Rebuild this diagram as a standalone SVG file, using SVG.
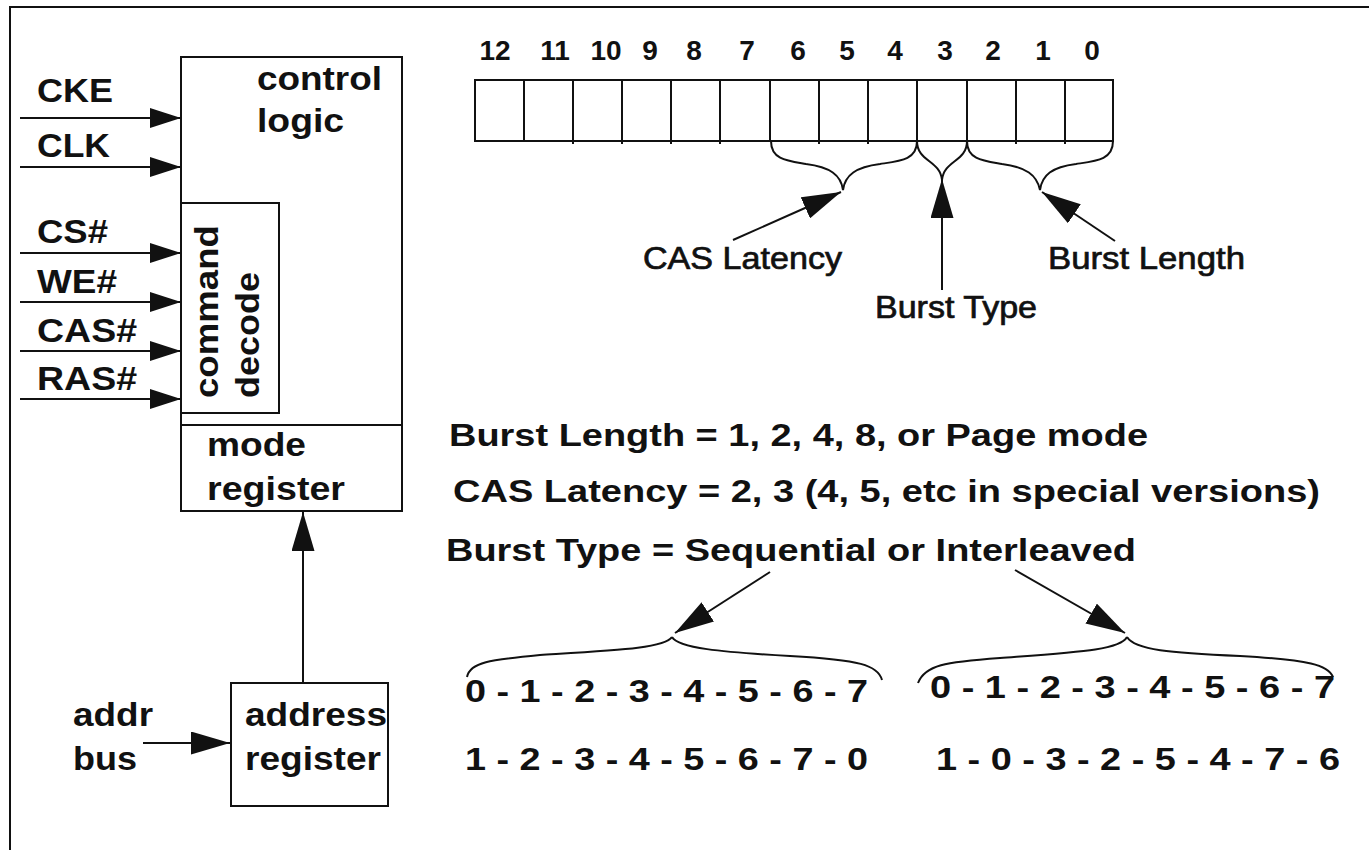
<svg xmlns="http://www.w3.org/2000/svg" width="1369" height="850" viewBox="0 0 1369 850">
<style>
.ln{fill:none;stroke:#111;stroke-width:2}
.box{fill:#fff;stroke:#111;stroke-width:2}
.t{font-family:"Liberation Sans",Arial,sans-serif;font-weight:bold;fill:#111}
.l{font-size:33px}
.n{font-size:28px}
.m{font-size:31px;font-weight:normal;stroke:#111;stroke-width:0.7}
.b{font-size:32px}
</style>
<defs>
<marker id="sa" markerUnits="userSpaceOnUse" markerWidth="31" markerHeight="20" refX="31" refY="10" orient="auto"><path d="M0,0 L31,10 L0,20 z" fill="#111"/></marker>
<marker id="la" markerUnits="userSpaceOnUse" markerWidth="39" markerHeight="23" refX="39" refY="11.5" orient="auto"><path d="M0,0 L39,11.5 L0,23 z" fill="#111"/></marker>
</defs>
<rect width="1369" height="850" fill="#fff"/>
<path class="ln" d="M10,850 L10,7 L1369,7"/>

<g id="control-logic">
<rect class="box" x="181" y="57" width="221" height="368"/>
<text class="t l" x="257" y="90" textLength="125" lengthAdjust="spacingAndGlyphs">control</text>
<text class="t l" x="257" y="132" textLength="87" lengthAdjust="spacingAndGlyphs">logic</text>
</g>
<g id="command-decode">
<rect class="box" x="181" y="203" width="98" height="210"/>
<text class="t l" transform="translate(218,398) rotate(-90)" textLength="173" lengthAdjust="spacingAndGlyphs">command</text>
<text class="t l" transform="translate(259,398) rotate(-90)" textLength="126" lengthAdjust="spacingAndGlyphs">decode</text>
</g>
<g id="mode-register">
<rect class="box" x="181" y="425" width="221" height="86"/>
<text class="t l" x="207" y="456" textLength="99" lengthAdjust="spacingAndGlyphs">mode</text>
<text class="t l" x="207" y="500" textLength="138" lengthAdjust="spacingAndGlyphs">register</text>
</g>
<g id="address-register">
<rect class="box" x="231" y="683" width="157" height="123"/>
<text class="t l" x="245" y="726" textLength="142" lengthAdjust="spacingAndGlyphs">address</text>
<text class="t l" x="245" y="770" textLength="136" lengthAdjust="spacingAndGlyphs">register</text>
</g>
<g id="signals">
<text class="t l" x="37" y="102" textLength="76" lengthAdjust="spacingAndGlyphs">CKE</text>
<text class="t l" x="37" y="157" textLength="73" lengthAdjust="spacingAndGlyphs">CLK</text>
<text class="t l" x="37" y="243" textLength="71" lengthAdjust="spacingAndGlyphs">CS#</text>
<text class="t l" x="37" y="293" textLength="80" lengthAdjust="spacingAndGlyphs">WE#</text>
<text class="t l" x="37" y="342" textLength="100" lengthAdjust="spacingAndGlyphs">CAS#</text>
<text class="t l" x="37" y="390" textLength="100" lengthAdjust="spacingAndGlyphs">RAS#</text>
<text class="t l" x="73" y="726" textLength="80" lengthAdjust="spacingAndGlyphs">addr</text>
<text class="t l" x="73" y="770" textLength="64" lengthAdjust="spacingAndGlyphs">bus</text>
</g>

<g id="mode-register-bits">
<path class="ln" d="M475,80 H1113 V141 H475 Z"/>
<path class="ln" d="M524,80V141 M573,80V144 M622,80V144 M671,80V144 M720,80V144 M770,80V141 M819,80V144 M868,80V144 M917,80V141 M967,80V141 M1016,80V144 M1065,80V144"/>
<g class="t n" text-anchor="middle">
<text x="495" y="60">12</text><text x="555" y="60">11</text><text x="606" y="60">10</text><text x="650" y="60">9</text><text x="694" y="60">8</text><text x="747" y="60">7</text><text x="798" y="60">6</text><text x="847" y="60">5</text><text x="895" y="60">4</text><text x="945" y="60">3</text><text x="993" y="60">2</text><text x="1043" y="60">1</text><text x="1092" y="60">0</text>
</g>
<path class="ln" d="M771,141 C771,160 788,161 806,164 C830,167 841,175 843,190 M917,141 C917,160 900,161 880,164 C856,167 845,175 843,190"/>
<path class="ln" d="M917,141 C917,162 940,160 942,180 M967,141 C967,162 944,160 942,180"/>
<path class="ln" d="M967,141 C967,160 984,161 1002,164 C1026,167 1037,175 1040,190 M1113,141 C1113,160 1096,161 1076,164 C1052,167 1042,175 1040,190"/>
<text class="t m" x="643" y="269" textLength="199" lengthAdjust="spacingAndGlyphs">CAS Latency</text>
<text class="t m" x="875" y="318" textLength="162" lengthAdjust="spacingAndGlyphs">Burst Type</text>
<text class="t m" x="1048" y="269" textLength="197" lengthAdjust="spacingAndGlyphs">Burst Length</text>
</g>

<g id="definitions">
<text class="t b" x="449" y="446" textLength="699" lengthAdjust="spacingAndGlyphs">Burst Length = 1, 2, 4, 8, or Page mode</text>
<text class="t b" x="453" y="502" textLength="867" lengthAdjust="spacingAndGlyphs">CAS Latency = 2, 3 (4, 5, etc in special versions)</text>
<text class="t b" x="446" y="561" textLength="690" lengthAdjust="spacingAndGlyphs">Burst Type = Sequential or Interleaved</text>
</g>
<g id="sequences">
<path class="ln" d="M467,677 C470,662 490,660 540,655 C620,650 665,648 672,637 M672,637 C678,648 720,652 790,656 C860,660 878,665 882,680"/>
<path class="ln" d="M918,683 C925,665 945,662 1000,658 C1080,652 1120,650 1127,637 M1127,637 C1135,650 1170,653 1240,656 C1310,660 1328,665 1333,677"/>
<text class="t b" x="465" y="702" textLength="403" lengthAdjust="spacingAndGlyphs">0 - 1 - 2 - 3 - 4 - 5 - 6 - 7</text>
<text class="t b" x="465" y="770" textLength="403" lengthAdjust="spacingAndGlyphs">1 - 2 - 3 - 4 - 5 - 6 - 7 - 0</text>
<text class="t b" x="930" y="698" textLength="405" lengthAdjust="spacingAndGlyphs">0 - 1 - 2 - 3 - 4 - 5 - 6 - 7</text>
<text class="t b" x="936" y="770" textLength="404" lengthAdjust="spacingAndGlyphs">1 - 0 - 3 - 2 - 5 - 4 - 7 - 6</text>
</g>

<g id="connectors">
<line class="ln" x1="20" y1="118" x2="181" y2="118" marker-end="url(#sa)"/>
<line class="ln" x1="20" y1="167" x2="181" y2="167" marker-end="url(#sa)"/>
<line class="ln" x1="20" y1="253" x2="181" y2="253" marker-end="url(#sa)"/>
<line class="ln" x1="20" y1="302" x2="181" y2="302" marker-end="url(#sa)"/>
<line class="ln" x1="20" y1="351" x2="181" y2="351" marker-end="url(#sa)"/>
<line class="ln" x1="20" y1="399" x2="181" y2="399" marker-end="url(#sa)"/>
<line class="ln" x1="143" y1="743" x2="230" y2="743" marker-end="url(#la)"/>
<line class="ln" x1="303" y1="683" x2="303" y2="512" marker-end="url(#la)"/>
<line class="ln" x1="733" y1="240" x2="841" y2="192" marker-end="url(#la)"/>
<line class="ln" x1="942" y1="290" x2="942" y2="179" marker-end="url(#la)"/>
<line class="ln" x1="1115" y1="241" x2="1042" y2="192" marker-end="url(#la)"/>
<line class="ln" x1="770" y1="572" x2="675" y2="633" marker-end="url(#la)"/>
<line class="ln" x1="1015" y1="570" x2="1125" y2="633" marker-end="url(#la)"/>
</g>
</svg>
